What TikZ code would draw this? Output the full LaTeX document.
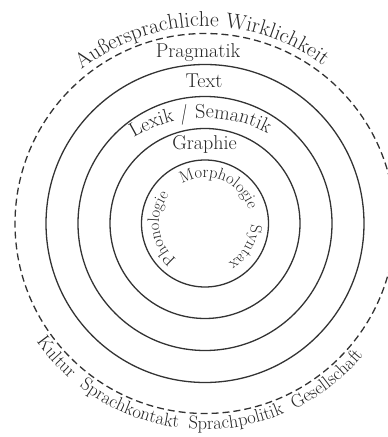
\documentclass[tikz,border=0pt]{standalone}
\usetikzlibrary{decorations.text,calc}
\begin{document}
\begin{tikzpicture}[x=1pt,y=1pt]
\tikzset{
  ring/.style={circle, draw=black!80, line width=1.3pt, inner sep=0pt, minimum size=#1},
  outerring/.style={circle, draw=black!80, line width=1.3pt, dash pattern=on 7pt off 4pt, inner sep=0pt, minimum size=#1},
  lbl/.style={font=\fontsize{20}{20}\selectfont, text=black!85, inner sep=0pt, anchor=base},
  arctext/.style={decorate, decoration={text along path, text align=center, text color=black!85, text={#1}}},
}
\useasboundingbox (0,0) rectangle (388,437);
\coordinate (C) at (205,213.5);
\coordinate (CL) at (205,182);
% rings
\node[ring=127pt] (r1) at (C) {};
\node[ring=190pt] (r2) at (C) {};
\node[ring=254pt] (r3) at (C) {};
\node[ring=318pt] (r4) at (C) {};
\node[outerring=380pt] (r5) at (C) {};
% straight labels
\node[lbl] (prag) at (198,379) {Pragmatik};
\node[lbl] (text) at (204,349) {Text};
\node[lbl] (graph) at (204.5,287) {Graphie};
% curved labels
\path[arctext={|\fontsize{21.5}{21.5}\selectfont|Au{\ss}ersprachliche Wirklichkeit}]
  ($(C)+(181:197)$) arc[start angle=181, end angle=1, radius=197];
\path[arctext={|\fontsize{20}{20}\selectfont|Lexik / Semantik}]
  ($(CL)+(152:137)$) arc[start angle=152, end angle=32, radius=137];
% inner labels
\path[arctext={|\fontsize{16.5}{16.5}\selectfont|Morphologie}]
  ($(C)+(158.7:46)$) arc[start angle=158.7, end angle=-21.3, radius=46];
\path[arctext={|\fontsize{16.5}{16.5}\selectfont|Syntax}]
  ($(C)+(59.7:46)$) arc[start angle=59.7, end angle=-120.3, radius=46];
\path[arctext={|\fontsize{16.5}{16.5}\selectfont|Phonologie}]
  ($(C)+(276.7:46)$) arc[start angle=276.7, end angle=96.7, radius=46];
% bottom labels
\path[arctext={|\fontsize{18.5}{18.5}\selectfont|Kultur}]
  ($(C)+(162:206)$) arc[start angle=162, end angle=282, radius=206];
\path[arctext={|\fontsize{18.5}{18.5}\selectfont|Sprachkontakt}]
  ($(C)+(187.5:206)$) arc[start angle=187.5, end angle=307.5, radius=206];
\path[arctext={|\fontsize{18.5}{18.5}\selectfont|Sprachpolitik}]
  ($(C)+(219:206)$) arc[start angle=219, end angle=339, radius=206];
\path[arctext={|\fontsize{18.5}{18.5}\selectfont|Gesellschaft}]
  ($(C)+(248:206)$) arc[start angle=248, end angle=368, radius=206];
\end{tikzpicture}
\end{document}
